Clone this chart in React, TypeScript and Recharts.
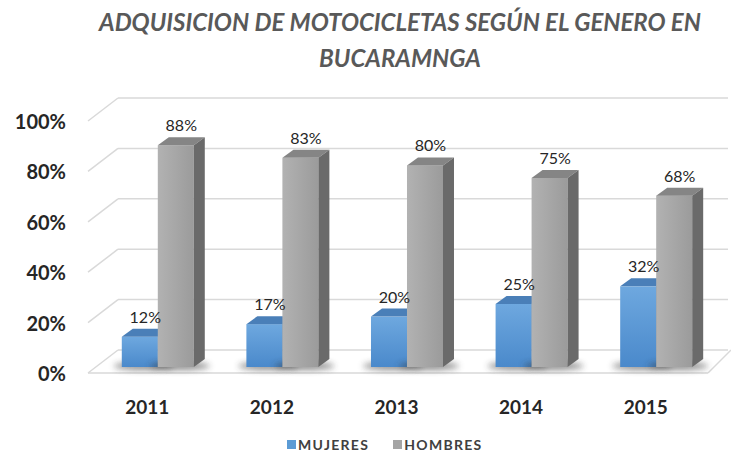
import React from 'react';
import { BarChart, Bar, XAxis, YAxis, CartesianGrid, LabelList } from 'recharts';

const YEARS = ['2011', '2012', '2013', '2014', '2015'];
const MUJERES = [12, 17, 20, 25, 32];
const HOMBRES = [88, 83, 80, 75, 68];
const Y_TICKS = [0, 20, 40, 60, 80, 100];

const data = YEARS.map((year, i) => ({ year, mujeres: MUJERES[i], hombres: HOMBRES[i] }));

const FONT = 'Lato, "Open Sans", sans-serif';
const DX = 11;
const DY = 8;

const makeShape = (front: string, top: string, side: string) => (props: any) => {
    const { x, y, width, height } = props;
    const w = width;
    const b = y + height;
    return (
        <g>
            <ellipse cx={x + w / 2 + 4} cy={b - 1} rx={w / 2 + 12} ry={4} fill="#333" opacity={0.55} filter="url(#blurShadow)" />
            <rect x={x} y={y} width={w} height={height} fill={front} />
            <polygon points={`${x},${y} ${x + DX},${y - DY} ${x + w + DX},${y - DY} ${x + w},${y}`} fill={top} />
            <polygon points={`${x + w},${y} ${x + w + DX},${y - DY} ${x + w + DX},${b - DY} ${x + w},${b}`} fill={side} />
        </g>
    );
};

const BlueShape = makeShape('url(#blueFront)', '#4a7fb8', '#3a6a9c');
const GrayShape = makeShape('url(#grayFront)', '#858585', '#6a6a6a');

const renderValue = (props: any) => {
    const { x, y, width, value } = props;
    return (
        <text x={x + width / 2 + DX / 2} y={y - DY - 6} textAnchor="middle" fontFamily={FONT} fontSize={16} fill="#262626">
            {value}%
        </text>
    );
};

const gridLine = (props: any) => {
    const { x1, x2, y1, index } = props;
    const isFloor = Math.abs(y1 - 367) < 2;
    return (
        <g key={`grid-${index}`}>
            <line x1={x1 - 7} y1={y1 + 6} x2={x1 + 23} y2={y1 - 17} stroke="#d9d9d9" strokeWidth={1.5} />
            <line x1={x1 + 23} y1={y1 - 17} x2={x2 + 10} y2={y1 - 17} stroke="#d9d9d9" strokeWidth={1.5} />
            {isFloor && (
                <>
                    <line x1={x1 - 7} y1={y1 + 6} x2={x2 - 10} y2={y1 + 6} stroke="#d9d9d9" strokeWidth={1.5} />
                    <line x1={x2 - 10} y1={y1 + 6} x2={x2 + 13} y2={y1 - 17} stroke="#d9d9d9" strokeWidth={1.5} />
                </>
            )}
        </g>
    );
};

const YTick = (props: any) => {
    const { x, y, payload } = props;
    return (
        <text x={x - 29} y={y + 6} textAnchor="end" dominantBaseline="central" fontFamily={FONT} fontWeight="bold" fontSize={20} fill="#262626">
            {payload.value}%
        </text>
    );
};

const XTick = (props: any) => {
    const { x, y, payload } = props;
    return (
        <text x={x - 10} y={y + 39} textAnchor="middle" dominantBaseline="central" fontFamily={FONT} fontWeight="bold" fontSize={19} fill="#262626">
            {payload.value}
        </text>
    );
};

export default function App() {
    return (
        <div style={{ position: 'absolute', left: 0, top: 0, width: 731, height: 455, background: '#fff', fontFamily: FONT }}>
            <div style={{ position: 'absolute', left: 0, top: 4, width: 800, textAlign: 'center', color: '#595959', fontWeight: 'bold', fontStyle: 'italic', fontSize: 24, lineHeight: '36px' }}>
                ADQUISICION DE MOTOCICLETAS SEGÚN EL GENERO EN<br />BUCARAMNGA
            </div>
            <BarChart
                width={731}
                height={455}
                data={data}
                margin={{ top: 115, right: 13, bottom: 58, left: 35 }}
                barCategoryGap="21.5%"
                barGap={0}
            >
                <defs>
                    <linearGradient id="blueFront" x1="0" y1="0" x2="0" y2="1">
                        <stop offset="0%" stopColor="#6ea8df" />
                        <stop offset="100%" stopColor="#4a89cb" />
                    </linearGradient>
                    <linearGradient id="grayFront" x1="0" y1="0" x2="1" y2="0">
                        <stop offset="0%" stopColor="#b2b2b2" />
                        <stop offset="100%" stopColor="#9b9b9b" />
                    </linearGradient>
                    <filter id="blurShadow" x="-50%" y="-200%" width="200%" height="500%">
                        <feGaussianBlur stdDeviation="3" />
                    </filter>
                </defs>
                <CartesianGrid vertical={false} horizontal={gridLine} />
                <XAxis dataKey="year" axisLine={false} tickLine={false} tickSize={0} tickMargin={0} height={30} tick={<XTick />} />
                <YAxis domain={[0, 100]} ticks={Y_TICKS} axisLine={false} tickLine={false} tickSize={0} tickMargin={0} width={60} tick={<YTick />} />
                <Bar dataKey="mujeres" fill="#5b9bd5" shape={BlueShape} isAnimationActive={false}>
                    <LabelList dataKey="mujeres" content={renderValue} />
                </Bar>
                <Bar dataKey="hombres" fill="#a5a5a5" shape={GrayShape} isAnimationActive={false}>
                    <LabelList dataKey="hombres" content={renderValue} />
                </Bar>
            </BarChart>
            <div style={{ position: 'absolute', left: 287, top: 436, display: 'flex', gap: 24, fontSize: 14, fontWeight: 'bold', color: '#404040', letterSpacing: 1.3 }}>
                <span style={{ display: 'flex', alignItems: 'center' }}>
                    <span style={{ width: 9, height: 9, background: '#5b9bd5', marginRight: 2 }} />MUJERES
                </span>
                <span style={{ display: 'flex', alignItems: 'center' }}>
                    <span style={{ width: 9, height: 9, background: '#a5a5a5', marginRight: 2 }} />HOMBRES
                </span>
            </div>
        </div>
    );
}
